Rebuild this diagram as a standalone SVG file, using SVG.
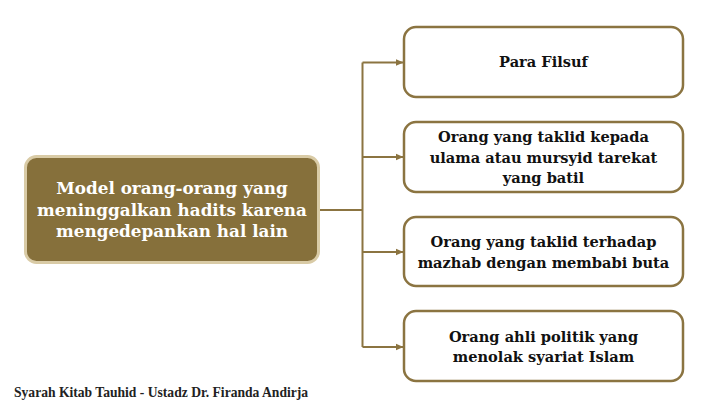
<svg xmlns="http://www.w3.org/2000/svg" width="723" height="415" viewBox="0 0 723 415">
<style>
.leaf{fill:#ffffff;stroke:#8b7441;stroke-width:2.5}
.lt{font-family:"DejaVu Serif",serif;font-weight:bold;font-size:14.6px;fill:#111111;text-anchor:middle}
.mt{font-family:"DejaVu Serif",serif;font-weight:bold;font-size:16.8px;fill:#ffffff;text-anchor:middle}
.con{fill:none;stroke:#8b7441;stroke-width:2}
</style>
<defs>
<marker id="arr" markerWidth="8" markerHeight="8" refX="7" refY="4" orient="auto" markerUnits="userSpaceOnUse">
<path d="M0,0.8 L7.5,4 L0,7.2 Z" fill="#8b7441"/>
</marker>
</defs>
<rect width="723" height="415" fill="#ffffff"/>
<g id="connectors">
<path class="con" d="M319,210 H362.5"/>
<path class="con" d="M362.5,62.5 V347"/>
<path class="con" d="M362.5,62.5 H403" marker-end="url(#arr)"/>
<path class="con" d="M362.5,157 H403" marker-end="url(#arr)"/>
<path class="con" d="M362.5,252 H403" marker-end="url(#arr)"/>
<path class="con" d="M362.5,347 H403" marker-end="url(#arr)"/>
</g>
<g id="main">
<rect x="25.5" y="156.5" width="293" height="106" rx="11" fill="#86703b" stroke="#d9cba6" stroke-width="3"/>
<text class="mt" x="172" y="194">Model orang-orang yang</text>
<text class="mt" x="172" y="215.5">meninggalkan hadits karena</text>
<text class="mt" x="172" y="237">mengedepankan hal lain</text>
</g>
<g id="n1">
<rect class="leaf" x="404" y="27" width="279" height="70" rx="12"/>
<text class="lt" x="543.5" y="67">Para Filsuf</text>
</g>
<g id="n2">
<rect class="leaf" x="404" y="122" width="279" height="70" rx="12"/>
<text class="lt" x="543.5" y="142.3">Orang yang taklid kepada</text>
<text class="lt" x="543.5" y="162.7">ulama atau mursyid tarekat</text>
<text class="lt" x="543.5" y="183">yang batil</text>
</g>
<g id="n3">
<rect class="leaf" x="404" y="217" width="279" height="69" rx="12"/>
<text class="lt" x="543.5" y="247">Orang yang taklid terhadap</text>
<text class="lt" x="543.5" y="267.5">mazhab dengan membabi buta</text>
</g>
<g id="n4">
<rect class="leaf" x="404" y="311" width="279" height="70" rx="12"/>
<text class="lt" x="543.5" y="341.5">Orang ahli politik yang</text>
<text class="lt" x="543.5" y="362">menolak syariat Islam</text>
</g>
<text x="14" y="397" font-family="Liberation Serif, serif" font-weight="bold" font-size="13.6" fill="#222222">Syarah Kitab Tauhid - Ustadz Dr. Firanda Andirja</text>
</svg>
